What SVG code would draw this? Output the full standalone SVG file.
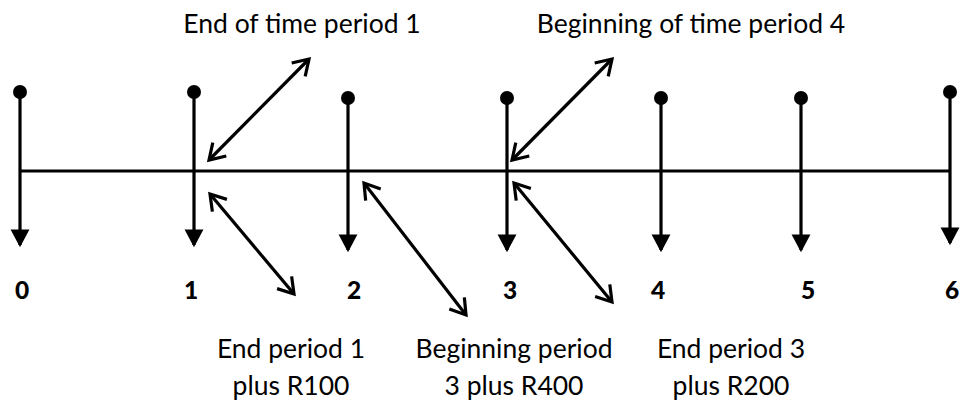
<svg xmlns="http://www.w3.org/2000/svg" width="960" height="405" viewBox="0 0 960 405">
<style>
.ln{stroke:#000;stroke-width:3.2;fill:none}
.v{stroke:#000;stroke-width:3.2;fill:none;marker-end:url(#tri)}
.d{stroke:#000;stroke-width:3.2;fill:none;marker-start:url(#vee);marker-end:url(#vee)}
.num{font-family:Lato,"Liberation Sans",sans-serif;font-weight:900;font-size:24.5px;text-anchor:middle;fill:#000}
.lbl{font-family:Lato,"Liberation Sans",sans-serif;font-size:26.5px;text-anchor:middle;fill:#000}
</style>
<defs>
<marker id="tri" markerUnits="userSpaceOnUse" markerWidth="20" markerHeight="20" viewBox="0 -9 16 18" refX="14" refY="0" orient="auto">
<path d="M0,-8.5 L16,0 L0,8.5 Z" fill="#000"/>
</marker>
<marker id="vee" markerUnits="userSpaceOnUse" markerWidth="24" markerHeight="24" viewBox="-17 -12 21 24" refX="0" refY="0" orient="auto-start-reverse">
<path d="M-15,-9.5 L0,0 L-15,9.5" fill="none" stroke="#000" stroke-width="3.2"/>
</marker>
</defs>
<g id="connectors">
<line class="ln" x1="20" y1="171" x2="950" y2="171"/>
<line class="d" x1="209" y1="160" x2="309" y2="59"/>
<line class="d" x1="210" y1="194" x2="294" y2="294"/>
<line class="d" x1="364" y1="183" x2="466" y2="315"/>
<line class="d" x1="512" y1="160" x2="612" y2="59"/>
<line class="d" x1="514" y1="183" x2="612" y2="302"/>
</g>
<g id="t0"><circle cx="20" cy="92" r="7"/><line class="v" x1="20" y1="92" x2="20" y2="245"/><text class="num" x="22" y="299">0</text></g>
<g id="t1"><circle cx="194" cy="92" r="7"/><line class="v" x1="194" y1="92" x2="194" y2="245"/><text class="num" x="191" y="299">1</text></g>
<g id="t2"><circle cx="348" cy="98" r="7"/><line class="v" x1="348" y1="98" x2="348" y2="250"/><text class="num" x="354" y="299">2</text></g>
<g id="t3"><circle cx="507" cy="98" r="7"/><line class="v" x1="507" y1="98" x2="507" y2="250"/><text class="num" x="510" y="299">3</text></g>
<g id="t4"><circle cx="661" cy="98" r="7"/><line class="v" x1="661" y1="98" x2="661" y2="250"/><text class="num" x="658" y="299">4</text></g>
<g id="t5"><circle cx="801" cy="98" r="7"/><line class="v" x1="801" y1="98" x2="801" y2="250"/><text class="num" x="808" y="299">5</text></g>
<g id="t6"><circle cx="950" cy="92" r="7"/><line class="v" x1="950" y1="92" x2="950" y2="243"/><text class="num" x="952" y="299">6</text></g>
<g id="l1"><text class="lbl" x="302" y="33">End of time period 1</text></g>
<g id="l2"><text class="lbl" x="691" y="33">Beginning of time period 4</text></g>
<g id="l3"><text class="lbl" x="291" y="358">End period 1</text><text class="lbl" x="291" y="395">plus R100</text></g>
<g id="l4"><text class="lbl" x="514" y="358">Beginning period</text><text class="lbl" x="514" y="395">3 plus R400</text></g>
<g id="l5"><text class="lbl" x="731" y="358">End period 3</text><text class="lbl" x="731" y="395">plus R200</text></g>
</svg>
